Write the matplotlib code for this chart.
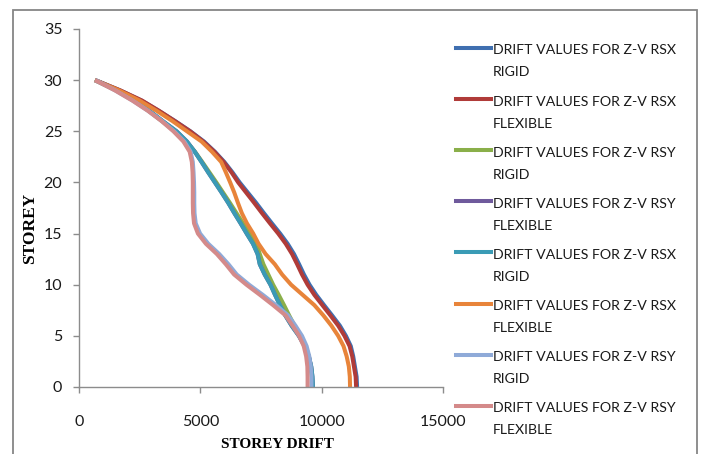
import matplotlib
matplotlib.use('Agg')
import matplotlib.pyplot as plt
from matplotlib.lines import Line2D
from matplotlib.patches import Rectangle

# storey levels and drift values
storeys = list(range(0, 31))

rsx_rigid = [11460, 11440, 11370, 11300, 11200, 11000, 10750, 10430, 10100, 9780,
             9500, 9270, 9070, 8860, 8600, 8290, 7950, 7620, 7300, 6960,
             6620, 6320, 5990, 5600, 5150, 4590, 3960, 3290, 2580, 1690, 680]
rsx_flexible = [11420, 11400, 11330, 11260, 11150, 10940, 10680, 10360, 10030, 9700,
                9420, 9190, 8990, 8780, 8520, 8210, 7870, 7540, 7220, 6890,
                6560, 6280, 5960, 5580, 5120, 4580, 3950, 3300, 2600, 1700, 660]
rsy_rigid = [9620, 9600, 9560, 9470, 9340, 9130, 8880, 8660, 8450, 8230,
             8000, 7800, 7600, 7450, 7320, 7050, 6760, 6490, 6220, 5940,
             5660, 5370, 5080, 4780, 4420, 3990, 3420, 2870, 2280, 1530, 650]
rsy_flexible = [9640, 9620, 9570, 9470, 9300, 9060, 8760, 8500, 8280, 8080,
                7890, 7650, 7450, 7360, 7170, 6910, 6660, 6400, 6150, 5880,
                5600, 5320, 5050, 4770, 4450, 4020, 3450, 2900, 2300, 1550, 660]
rsx_rigid_2 = [9640, 9620, 9570, 9470, 9300, 9060, 8760, 8500, 8280, 8080,
               7890, 7650, 7450, 7360, 7170, 6910, 6660, 6400, 6150, 5880,
               5600, 5320, 5050, 4770, 4450, 4020, 3450, 2900, 2300, 1550, 660]
rsx_flexible_2 = [11170, 11160, 11120, 11030, 10900, 10680, 10400, 10070, 9700, 9220,
                  8740, 8370, 8070, 7690, 7400, 7180, 6920, 6710, 6550, 6400,
                  6230, 6050, 5860, 5480, 5050, 4450, 3850, 3200, 2500, 1650, 660]
rsy_rigid_2 = [9580, 9580, 9550, 9490, 9380, 9190, 8920, 8620, 8120, 7580,
               7010, 6500, 6160, 5780, 5330, 4990, 4810, 4760, 4750, 4750,
               4740, 4720, 4690, 4600, 4340, 3920, 3420, 2850, 2210, 1490, 680]
rsy_flexible_2 = [9420, 9420, 9410, 9360, 9260, 9070, 8800, 8510, 8000, 7460,
                  6900, 6390, 6050, 5680, 5230, 4900, 4740, 4700, 4690, 4690,
                  4690, 4680, 4650, 4560, 4300, 3890, 3400, 2840, 2200, 1480, 660]

series = [rsx_rigid, rsx_flexible, rsy_rigid, rsy_flexible,
          rsx_rigid_2, rsx_flexible_2, rsy_rigid_2, rsy_flexible_2]
labels = ['DRIFT VALUES FOR Z-V RSX\nRIGID', 'DRIFT VALUES FOR Z-V RSX\nFLEXIBLE',
          'DRIFT VALUES FOR Z-V RSY\nRIGID', 'DRIFT VALUES FOR Z-V RSY\nFLEXIBLE',
          'DRIFT VALUES FOR Z-V RSX\nRIGID', 'DRIFT VALUES FOR Z-V RSX\nFLEXIBLE',
          'DRIFT VALUES FOR Z-V RSY\nRIGID', 'DRIFT VALUES FOR Z-V RSY\nFLEXIBLE']
colors = ['#3F6FB0', '#B03B39', '#8AAF4A', '#6F5A9C',
          '#3A9BB5', '#E8843A', '#8FAAD8', '#D48A8A']

sans = ['Lato', 'DejaVu Sans']
serif = ['Liberation Serif', 'DejaVu Serif']

W, H = 703, 454
fig = plt.figure(figsize=(W / 100, H / 100), dpi=100)
ax = fig.add_axes([79 / W, (H - 387) / H, 364 / W, 358 / H])

for xs, c in zip(series, colors):
    ax.plot(xs, storeys, color=c, lw=2.9, solid_capstyle='butt', solid_joinstyle='round')

ax.set_xlim(0, 15000)
ax.set_ylim(0, 35)
ax.set_xticks([0, 5000, 10000, 15000])
ax.set_yticks(range(0, 36, 5))
for s in ['top', 'right']:
    ax.spines[s].set_visible(False)
for s in ['left', 'bottom']:
    ax.spines[s].set_color('#8C8C8C')
    ax.spines[s].set_linewidth(1.0)
ax.tick_params(axis='both', direction='out', length=4, width=1.0, color='#8C8C8C')
ax.tick_params(axis='x', pad=16)
ax.tick_params(axis='y', pad=8)
for t in ax.get_xticklabels() + ax.get_yticklabels():
    t.set_family(sans)
    t.set_fontsize(11.5)
    t.set_color('#1A1A1A')

fig.text(277 / W, 1 - 445 / H, 'STOREY DRIFT', family=serif, fontweight='bold',
         fontsize=11, ha='center', va='center')
fig.text(30 / W, 1 - 228 / H, 'STOREY', family=serif, fontweight='bold',
         fontsize=12.5, ha='center', va='center', rotation=90)

# legend on the right
for i, (lab, c) in enumerate(zip(labels, colors)):
    yp = 48 + i * 51.1
    fig.add_artist(Line2D([456 / W, 491 / W], [1 - yp / H, 1 - yp / H],
                          color=c, lw=2.9, transform=fig.transFigure))
    first, second = lab.split('\n')
    fig.text(493 / W, 1 - (yp + 6.5) / H, first, family=sans, fontsize=10.2,
             va='baseline', ha='left', color='#1A1A1A')
    fig.text(493 / W, 1 - (yp + 28.5) / H, second, family=sans, fontsize=10.2,
             va='baseline', ha='left', color='#1A1A1A')

# outer chart border
fig.add_artist(Rectangle((13 / W, -0.05), (697 - 13) / W, 1.05 - 10 / H,
                         transform=fig.transFigure, fill=False,
                         edgecolor='#868686', lw=1.3))

fig.savefig('out.png', dpi=100)
